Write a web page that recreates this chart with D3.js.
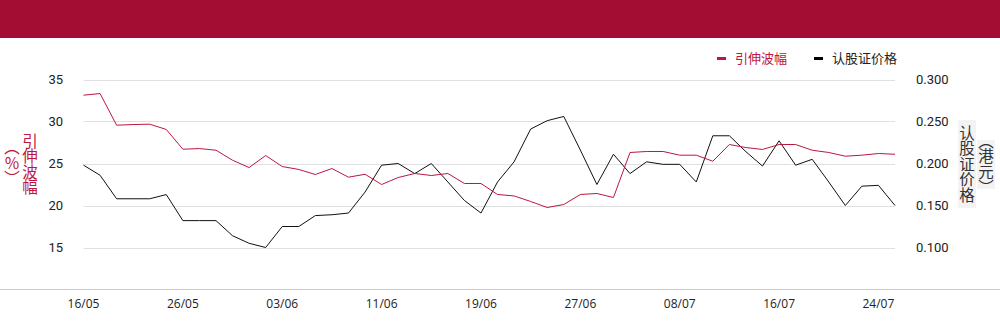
<!DOCTYPE html>
<html>
<head>
<meta charset="utf-8">
<script src="https://cdn.jsdelivr.net/npm/d3@7"></script>
<style>
  body { margin: 0; background: #fff; }
  svg { display: block; }
  .tick-y { font-family: Roboto, "Noto Sans", sans-serif; font-size: 13px; fill: #222; }
  .tick-x { font-family: "Open Sans", "Noto Sans", sans-serif; font-size: 12px; fill: #222; }
  .cjk { font-family: "Noto Sans CJK SC", sans-serif; font-size: 13px; }
  .title { font-family: "Noto Sans CJK SC", sans-serif; font-size: 15.5px; }
</style>
</head>
<body>
<div id="chart"></div>
<script>
// trading days, 2024
var dates = ["16/05","17/05","20/05","21/05","22/05","23/05","26/05","27/05","28/05","29/05",
             "30/05","31/05","03/06","04/06","05/06","06/06","07/06","10/06","11/06","12/06",
             "13/06","14/06","17/06","18/06","19/06","20/06","21/06","24/06","25/06","26/06",
             "27/06","28/06","02/07","03/07","04/07","05/07","08/07","09/07","10/07","11/07",
             "12/07","15/07","16/07","17/07","18/07","19/07","22/07","23/07","24/07","25/07"];

// 引伸波幅 (%)
var volatility = [33.13,33.33,29.56,29.64,29.68,29.05,26.70,26.78,26.58,25.39,
                  24.52,25.95,24.64,24.29,23.69,24.40,23.37,23.72,22.50,23.33,
                  23.81,23.57,23.81,22.62,22.62,21.31,21.14,20.48,19.76,20.12,
                  21.31,21.43,20.95,26.31,26.43,26.43,25.99,25.99,25.27,27.26,
                  26.90,26.67,27.26,27.26,26.58,26.31,25.87,25.99,26.19,26.10];

// 认股证价格 (港元)
var price = [0.198,0.186,0.158,0.158,0.158,0.163,0.132,0.132,0.132,0.114,
             0.105,0.100,0.125,0.125,0.138,0.139,0.141,0.166,0.198,0.200,
             0.188,0.200,0.178,0.156,0.141,0.178,0.202,0.241,0.251,0.256,
             0.216,0.175,0.211,0.188,0.202,0.199,0.199,0.178,0.233,0.233,
             0.214,0.197,0.227,0.198,0.205,0.178,0.150,0.173,0.174,0.150];

var leftTicks = [15, 20, 25, 30, 35];
var rightTicks = [0.100, 0.150, 0.200, 0.250, 0.300];
var xTickLabels = ["16/05","26/05","03/06","11/06","19/06","27/06","08/07","16/07","24/07"];

var width = 1000, height = 324;
var red = "#bd1640", headerRed = "#a30d34";

var svg = d3.select("#chart").append("svg")
    .attr("width", width)
    .attr("height", height);

// header band
svg.append("rect")
    .attr("x", 0).attr("y", 0)
    .attr("width", width).attr("height", 38)
    .attr("fill", headerRed);

var xScale = d3.scalePoint().domain(dates).range([83.5, 895]);
var yLeft = d3.scaleLinear().domain([10, 35]).range([289.5, 79.5]);
var yRight = d3.scaleLinear().domain([0.05, 0.30]).range([289.5, 79.5]);

// gridlines
svg.append("g").selectAll("line")
    .data(leftTicks)
    .enter().append("line")
    .attr("x1", 83.5).attr("x2", 895)
    .attr("y1", function(d) { return Math.round(yLeft(d)) + 0.5; })
    .attr("y2", function(d) { return Math.round(yLeft(d)) + 0.5; })
    .attr("stroke", "#e0e0e0");

// bottom baseline
svg.append("line")
    .attr("x1", 0).attr("x2", width)
    .attr("y1", 289.5).attr("y2", 289.5)
    .attr("stroke", "#cccccc");

// left axis labels
svg.append("g").selectAll("text")
    .data(leftTicks)
    .enter().append("text")
    .attr("class", "tick-y")
    .attr("x", 63)
    .attr("y", function(d) { return yLeft(d); })
    .attr("dy", "0.35em")
    .attr("text-anchor", "end")
    .text(function(d) { return d; });

// right axis labels
svg.append("g").selectAll("text")
    .data(rightTicks)
    .enter().append("text")
    .attr("class", "tick-y")
    .attr("x", 916)
    .attr("y", function(d) { return yRight(d); })
    .attr("dy", "0.35em")
    .text(function(d) { return d3.format(".3f")(d); });

// x labels
svg.append("g").selectAll("text")
    .data(xTickLabels)
    .enter().append("text")
    .attr("class", "tick-x")
    .attr("x", function(d) { return xScale(d); })
    .attr("y", 308)
    .attr("text-anchor", "middle")
    .text(function(d) { return d; });

// lines
var lineLeft = d3.line()
    .x(function(d, i) { return xScale(dates[i]); })
    .y(function(d) { return yLeft(d); });
var lineRight = d3.line()
    .x(function(d, i) { return xScale(dates[i]); })
    .y(function(d) { return yRight(d); });

svg.append("path")
    .datum(price)
    .attr("d", lineRight)
    .attr("fill", "none")
    .attr("stroke", "#111")
    .attr("stroke-width", 1);

svg.append("path")
    .datum(volatility)
    .attr("d", lineLeft)
    .attr("fill", "none")
    .attr("stroke", red)
    .attr("stroke-width", 1);

// axis titles (vertical)
function vText(x, y, txt, color) {
    svg.append("text")
        .attr("class", "title")
        .attr("x", x).attr("y", y)
        .attr("text-anchor", "middle")
        .style("writing-mode", "vertical-rl")
        .attr("fill", color)
        .text(txt);
}
svg.append("rect").attr("x", 958).attr("y", 120).attr("width", 18).attr("height", 88).attr("fill", "#f3f3f3");
svg.append("rect").attr("x", 977).attr("y", 140).attr("width", 18).attr("height", 49).attr("fill", "#f3f3f3");
vText(30, 164, "引伸波幅", red);
vText(12, 163, "（％）", red);
vText(967, 164, "认股证价格", "#333");
vText(986, 164, "（港元）", "#333");

// legend
var legend = [{name: "引伸波幅", color: red, x: 717}, {name: "认股证价格", color: "#000", x: 814}];
var lg = svg.append("g").selectAll("g").data(legend).enter().append("g");
lg.append("rect")
    .attr("x", function(d) { return d.x; })
    .attr("y", 57)
    .attr("width", 9).attr("height", 3)
    .attr("fill", function(d) { return d.color; });
lg.append("text")
    .attr("class", "cjk")
    .attr("x", function(d) { return d.x + 18; })
    .attr("y", 58.5)
    .attr("dy", "0.35em")
    .attr("fill", function(d) { return d.color == "#000" ? "#222" : d.color; })
    .text(function(d) { return d.name; });
</script>
</body>
</html>
